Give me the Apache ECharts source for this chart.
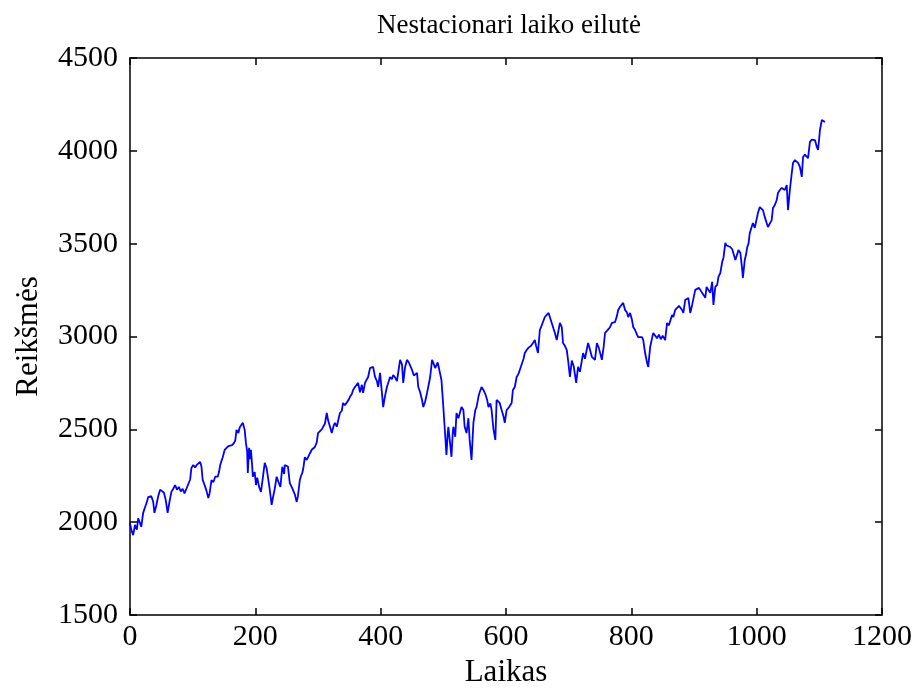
<!DOCTYPE html>
<html>
<head>
<meta charset="utf-8">
<script src="https://cdn.jsdelivr.net/npm/echarts@6/dist/echarts.min.js"></script>
<style>html,body{margin:0;padding:0;background:#fff}#c{width:920px;height:696px}</style>
</head>
<body>
<div id="c"></div>
<script>
const titleText = 'Nestacionari laiko eilutė';
const xName = 'Laikas';
const yName = 'Reikšmės';
const xTicks = [0, 200, 400, 600, 800, 1000, 1200];
const yTicks = [1500, 2000, 2500, 3000, 3500, 4000, 4500];

const times = [
0,2,5,8,11,13,16,18,21,24,27,29,32,34,37,39,42,45,48,51,54,57,60,63,66,69,72,75,78,81,84,87,90,93,96,98,
101,104,107,110,112,114,116,118,120,122,125,127,130,133,136,138,140,142,144,146,148,151,154,157,160,163,166,168,170,173,175,178,180,182,183,185,187,188,190,192,193,195,196,199,
201,203,206,209,212,215,218,220,222,224,226,228,231,234,237,240,243,246,247,250,252,255,258,260,263,266,268,271,273,275,277,279,282,284,287,290,293,295,298,
300,303,306,308,311,314,316,319,322,325,327,330,333,335,338,340,343,346,349,351,354,356,359,362,364,367,370,372,375,378,380,383,386,388,391,394,396,399,
402,404,407,410,413,415,418,420,423,426,428,431,434,436,439,442,445,447,450,453,455,458,460,463,466,468,471,474,477,479,482,484,487,489,491,493,495,497,
500,503,505,507,508,510,513,515,516,519,521,524,526,529,532,534,537,540,542,545,548,551,553,556,558,561,564,567,570,572,575,577,580,583,585,588,590,593,596,598,
601,605,609,611,614,617,620,622,625,628,630,633,636,640,643,646,648,651,654,657,659,662,665,668,670,673,676,678,681,683,686,689,691,694,697,699,
702,705,708,710,712,715,718,721,723,726,729,731,734,737,740,742,745,748,750,753,756,758,761,763,766,769,772,774,777,779,782,785,787,790,793,795,798,
801,803,806,809,811,814,817,819,822,825,827,830,833,835,838,841,844,847,850,854,857,860,862,865,867,870,873,876,878,881,883,886,889,891,894,897,899,
902,905,908,910,913,916,918,920,923,926,929,931,934,937,939,942,945,947,950,952,955,958,961,963,966,969,971,974,977,978,981,983,985,987,989,992,994,997,
1000,1002,1005,1008,1010,1013,1016,1018,1021,1024,1026,1029,1032,1034,1037,1040,1042,1045,1048,1050,1053,1056,1058,1061,1064,1066,1069,1072,1074,1077,1080,1082,1085,1088,1090,1093,1096,1098,
1101,1104,1106,1109
];
const values = [
1995,1960,1930,1985,1960,2020,1995,1975,2050,2080,2110,2135,2125,2140,2110,2050,2090,2140,2174,2165,2160,2120,2050,2110,2163,2180,2200,2175,2190,2165,2180,2155,2180,2170,2230,2292,
2308,2295,2310,2300,2324,2300,2227,2210,2190,2170,2130,2155,2227,2215,2245,2235,2245,2270,2308,2330,2350,2389,2395,2410,2400,2415,2427,2440,2497,2480,2510,2520,2535,2510,2497,2427,2380,2265,2400,2340,2390,2300,2245,2270,
2200,2240,2190,2163,2240,2320,2290,2245,2200,2150,2093,2130,2180,2245,2215,2190,2298,2260,2308,2298,2300,2210,2190,2174,2150,2109,2140,2227,2250,2265,2300,2350,2335,2340,2370,2390,2380,2405,2430,
2480,2470,2500,2497,2530,2588,2550,2560,2480,2520,2535,2514,2560,2588,2600,2642,2630,2620,2660,2675,2690,2712,2728,2720,2750,2700,2740,2696,2750,2770,2782,2830,2820,2836,2782,2760,2728,2804,
2696,2620,2680,2728,2760,2782,2770,2793,2780,2760,2750,2874,2850,2750,2836,2874,2860,2858,2820,2790,2782,2804,2728,2700,2658,2620,2650,2696,2700,2782,2874,2858,2830,2820,2860,2830,2820,2766,
2620,2625,2362,2480,2514,2450,2352,2480,2514,2460,2588,2560,2550,2620,2604,2514,2480,2560,2443,2335,2535,2604,2620,2675,2700,2728,2712,2690,2658,2620,2640,2604,2500,2443,2658,2650,2642,2604,2570,2535,
2604,2620,2642,2712,2728,2782,2800,2820,2830,2880,2911,2927,2940,2950,2965,2981,2950,2911,3035,3060,3078,3105,3115,3127,3120,3073,3040,3019,2981,2990,3073,3051,2965,2950,2927,2874,
2782,2870,2840,2830,2750,2836,2810,2820,2911,2880,2890,2965,2930,2890,2880,2874,2965,2940,2943,2874,2950,3019,3030,3035,3050,3073,3070,3078,3110,3143,3160,3170,3181,3143,3130,3105,3127,
3090,3051,3035,3010,2997,3000,2997,2981,2911,2860,2836,2943,2990,3019,3019,2990,3010,2985,3005,2981,3073,3060,3051,3116,3105,3143,3154,3165,3170,3143,3127,3197,3205,3208,3127,3170,3160,
3251,3245,3262,3255,3235,3220,3208,3267,3250,3235,3294,3170,3267,3278,3321,3342,3402,3423,3504,3490,3493,3482,3470,3466,3412,3402,3466,3450,3358,3315,3412,3440,3482,3500,3558,3590,3611,3585,
3590,3665,3697,3692,3681,3643,3611,3590,3585,3627,3692,3708,3735,3773,3789,3800,3805,3789,3816,3681,3789,3880,3935,3950,3940,3935,3913,3860,3967,3980,3988,3961,4048,4060,4069,4058,4021,4005,
4112,4166,4166,4155
];

const points = times.map((t, i) => [t, values[i]]);
const FONT = '"Liberation Serif", "DejaVu Serif", serif';
const xMin = xTicks[0], xMax = xTicks[xTicks.length - 1], xStep = xTicks[1] - xTicks[0];
const yMin = yTicks[0], yMax = yTicks[yTicks.length - 1], yStep = yTicks[1] - yTicks[0];
const plain = v => String(v);

const axisLine = { show: true, onZero: false, lineStyle: { color: '#000', width: 1.5 } };
const axisTick = { show: true, inside: true, length: 7, lineStyle: { color: '#000', width: 1.5 } };

const chart = echarts.init(document.getElementById('c'), null, { renderer: 'canvas' });
chart.setOption({
  animation: false,
  backgroundColor: '#fff',
  title: {
    text: titleText, left: 504, top: 7, textAlign: 'center',
    textStyle: { fontFamily: FONT, fontSize: 27, fontWeight: 'normal', color: '#000' }
  },
  grid: { left: 130, right: 38, top: 58, bottom: 81, containLabel: false },
  xAxis: [
    { type: 'value', position: 'bottom', min: xMin, max: xMax, interval: xStep,
      name: xName, nameLocation: 'middle', nameGap: 42,
      nameTextStyle: { fontFamily: FONT, fontSize: 31, color: '#000' },
      axisLine, axisTick, splitLine: { show: false },
      axisLabel: { fontFamily: FONT, fontSize: 30, color: '#000', margin: 7, formatter: plain } },
    { type: 'value', position: 'top', min: xMin, max: xMax, interval: xStep,
      axisLine, axisTick, splitLine: { show: false }, axisLabel: { show: false } }
  ],
  yAxis: [
    { type: 'value', position: 'left', min: yMin, max: yMax, interval: yStep,
      name: yName, nameLocation: 'middle', nameGap: 86,
      nameTextStyle: { fontFamily: FONT, fontSize: 31, color: '#000' },
      axisLine, axisTick, splitLine: { show: false },
      axisLabel: { fontFamily: FONT, fontSize: 30, color: '#000', margin: 12, formatter: plain } },
    { type: 'value', position: 'right', min: yMin, max: yMax, interval: yStep,
      axisLine, axisTick, splitLine: { show: false }, axisLabel: { show: false } }
  ],
  series: [{
    type: 'line', data: points, xAxisIndex: 0, yAxisIndex: 0,
    showSymbol: false, symbol: 'none',
    lineStyle: { color: '#0000ff', width: 1.8 }
  }]
});
</script>
</body>
</html>
